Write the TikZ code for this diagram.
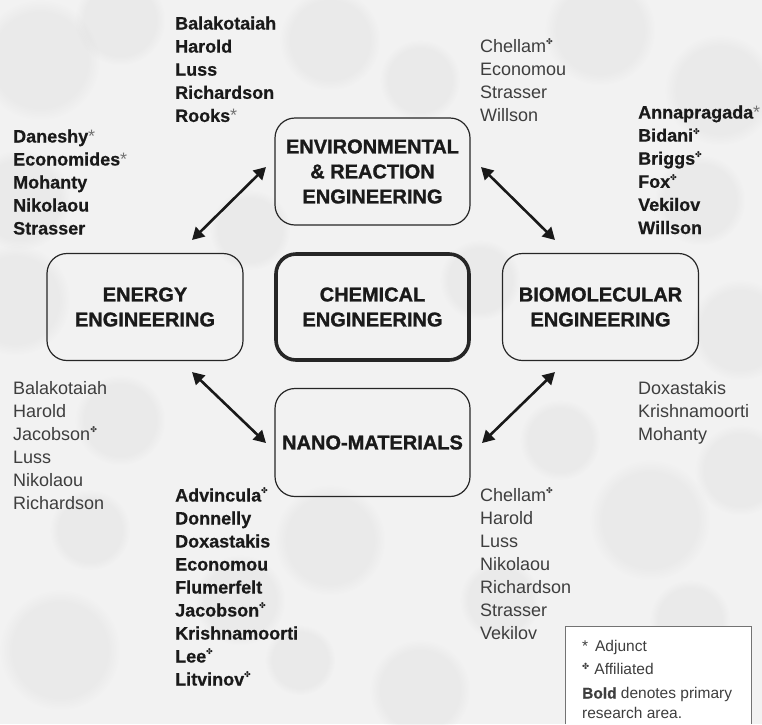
\documentclass[tikz,border=0pt]{standalone}
\usepackage{fontspec}
\setmainfont{Liberation Sans}[BoldFeatures={FakeBold=0.5}]
\newfontfamily\titlefont{Liberation Sans Bold}[FakeBold=1.2]
\newfontfamily\symfont{DejaVu Sans}
\usetikzlibrary{arrows.meta,fadings}
\definecolor{bgc}{HTML}{F2F2F2}
\definecolor{blobc}{HTML}{DADADA}
\definecolor{regc}{HTML}{3E3E3E}
\definecolor{boldc}{HTML}{1A1A1A}
\newcommand{\aff}{\raisebox{0.42em}{\symfont\fontsize{8}{8}\selectfont ✤}}
\newcommand{\adj}{{\mdseries\color{black!55}*}}
\begin{document}
\begin{tikzpicture}[x=1pt,y=-1pt,
  area/.style={draw=black!85, line width=1.2pt, rounded corners=20pt,
    minimum width=195pt, minimum height=107pt, align=center,
    font=\titlefont\fontsize{20}{25}\selectfont, text=boldc, inner sep=0pt},
  core/.style={area, line width=3.6pt, minimum width=193pt, minimum height=106pt},
  link/.style={{Triangle[length=12pt,width=13pt]}-{Triangle[length=12pt,width=13pt]},
    line width=2.6pt, draw=black!90},
  bname/.style={anchor=base west, inner sep=0pt,
    font=\fontsize{18}{18}\selectfont\bfseries, text=boldc},
  rname/.style={anchor=base west, inner sep=0pt,
    font=\fontsize{18}{18}\selectfont, text=regc},
  lname/.style={anchor=base west, inner sep=0pt,
    font=\fontsize{15.5}{15.5}\selectfont, text=regc},
  blob/.style={fill=blobc, path fading=circle with fuzzy edge 20 percent, opacity=0.3}
]
\useasboundingbox (0,0) rectangle (762,724);
\fill[bgc] (0,0) rectangle (762,724);
% mottled background texture
\foreach \bx/\by/\br in {40/60/60, 120/20/45, 330/40/50, 420/80/40, 600/30/55, 720/90/55,
  20/200/50, 250/230/40, 700/200/45, 480/280/40, 15/300/55, 740/330/50, 120/420/45,
  330/540/55, 240/600/45, 60/650/60, 420/690/50, 650/520/60, 560/440/40, 740/470/45,
  90/530/40, 500/600/40, 300/660/35, 690/620/40}
  \fill[blob] (\bx,\by) circle (\br);

% area boxes
\node[area] (env)  at (372.5,171.5) {ENVIRONMENTAL\\\& REACTION\\ENGINEERING};
\node[area, minimum width=196pt] (energy) at (145,307) {ENERGY\\ENGINEERING};
\node[core] (chem) at (372.5,307) {CHEMICAL\\ENGINEERING};
\node[area, minimum width=196pt] (bio) at (600.5,307) {BIOMOLECULAR\\ENGINEERING};
\node[area, minimum height=108pt] (nano) at (372.5,442.5) {NANO-MATERIALS};

% arrow ends
\coordinate (a1s) at (192,240); \coordinate (a1e) at (266,167);
\coordinate (a2s) at (481,167); \coordinate (a2e) at (555,240);
\coordinate (a3s) at (192,372); \coordinate (a3e) at (266,443);
\coordinate (a4s) at (482,443); \coordinate (a4e) at (555,372);
\draw[link] (a1s) -- (a1e);
\draw[link] (a2s) -- (a2e);
\draw[link] (a3s) -- (a3e);
\draw[link] (a4s) -- (a4e);

% name lists
\foreach \t [count=\i] in {Balakotaiah, Harold, Luss, Richardson, Rooks\adj}
  \node[bname] (tc\i) at (175, 29.5+23.1*\i-23.1) {\t};
\foreach \t [count=\i] in {Daneshy\adj, Economides\adj, Mohanty, Nikolaou, Strasser}
  \node[bname] (tl\i) at (13, 142.5+23*\i-23) {\t};
\foreach \t [count=\i] in {Chellam\aff, Economou, Strasser, Willson}
  \node[rname] (tr\i) at (480, 52.5+23.1*\i-23.1) {\t};
\foreach \t [count=\i] in {Annapragada\adj, Bidani\aff, Briggs\aff, Fox\aff, Vekilov, Willson}
  \node[bname] (rb\i) at (638, 118.5+23.1*\i-23.1) {\t};
\foreach \t [count=\i] in {Balakotaiah, Harold, Jacobson\aff, Luss, Nikolaou, Richardson}
  \node[rname] (lb\i) at (13, 394.5+23*\i-23) {\t};
\foreach \t [count=\i] in {Doxastakis, Krishnamoorti, Mohanty}
  \node[rname] (rm\i) at (638, 394.5+23*\i-23) {\t};
\foreach \t [count=\i] in {Advincula\aff, Donnelly, Doxastakis, Economou, Flumerfelt,
  Jacobson\aff, Krishnamoorti, Lee\aff, Litvinov\aff}
  \node[bname] (bc\i) at (175, 501.5+23*\i-23) {\t};
\foreach \t [count=\i] in {Chellam\aff, Harold, Luss, Nikolaou, Richardson, Strasser, Vekilov}
  \node[rname] (br\i) at (480, 501.5+23*\i-23) {\t};

% legend
\fill[white] (565,626) rectangle (751,724);
\draw[black!55, line width=1pt] (565,724) -- (565,626) -- (751,626) -- (751,724);
\node[lname] (lg1) at (582,651.5) {* \,Adjunct};
\node[lname] (lg2) at (582,674.5) {\raisebox{0.3em}{\symfont\fontsize{8.5}{8.5}\selectfont ✤}\,\,Affiliated};
\node[lname] (lg3) at (582,698.5) {\textbf{Bold} denotes primary};
\node[lname] (lg4) at (582,718.5) {research area.};
\end{tikzpicture}
\end{document}
